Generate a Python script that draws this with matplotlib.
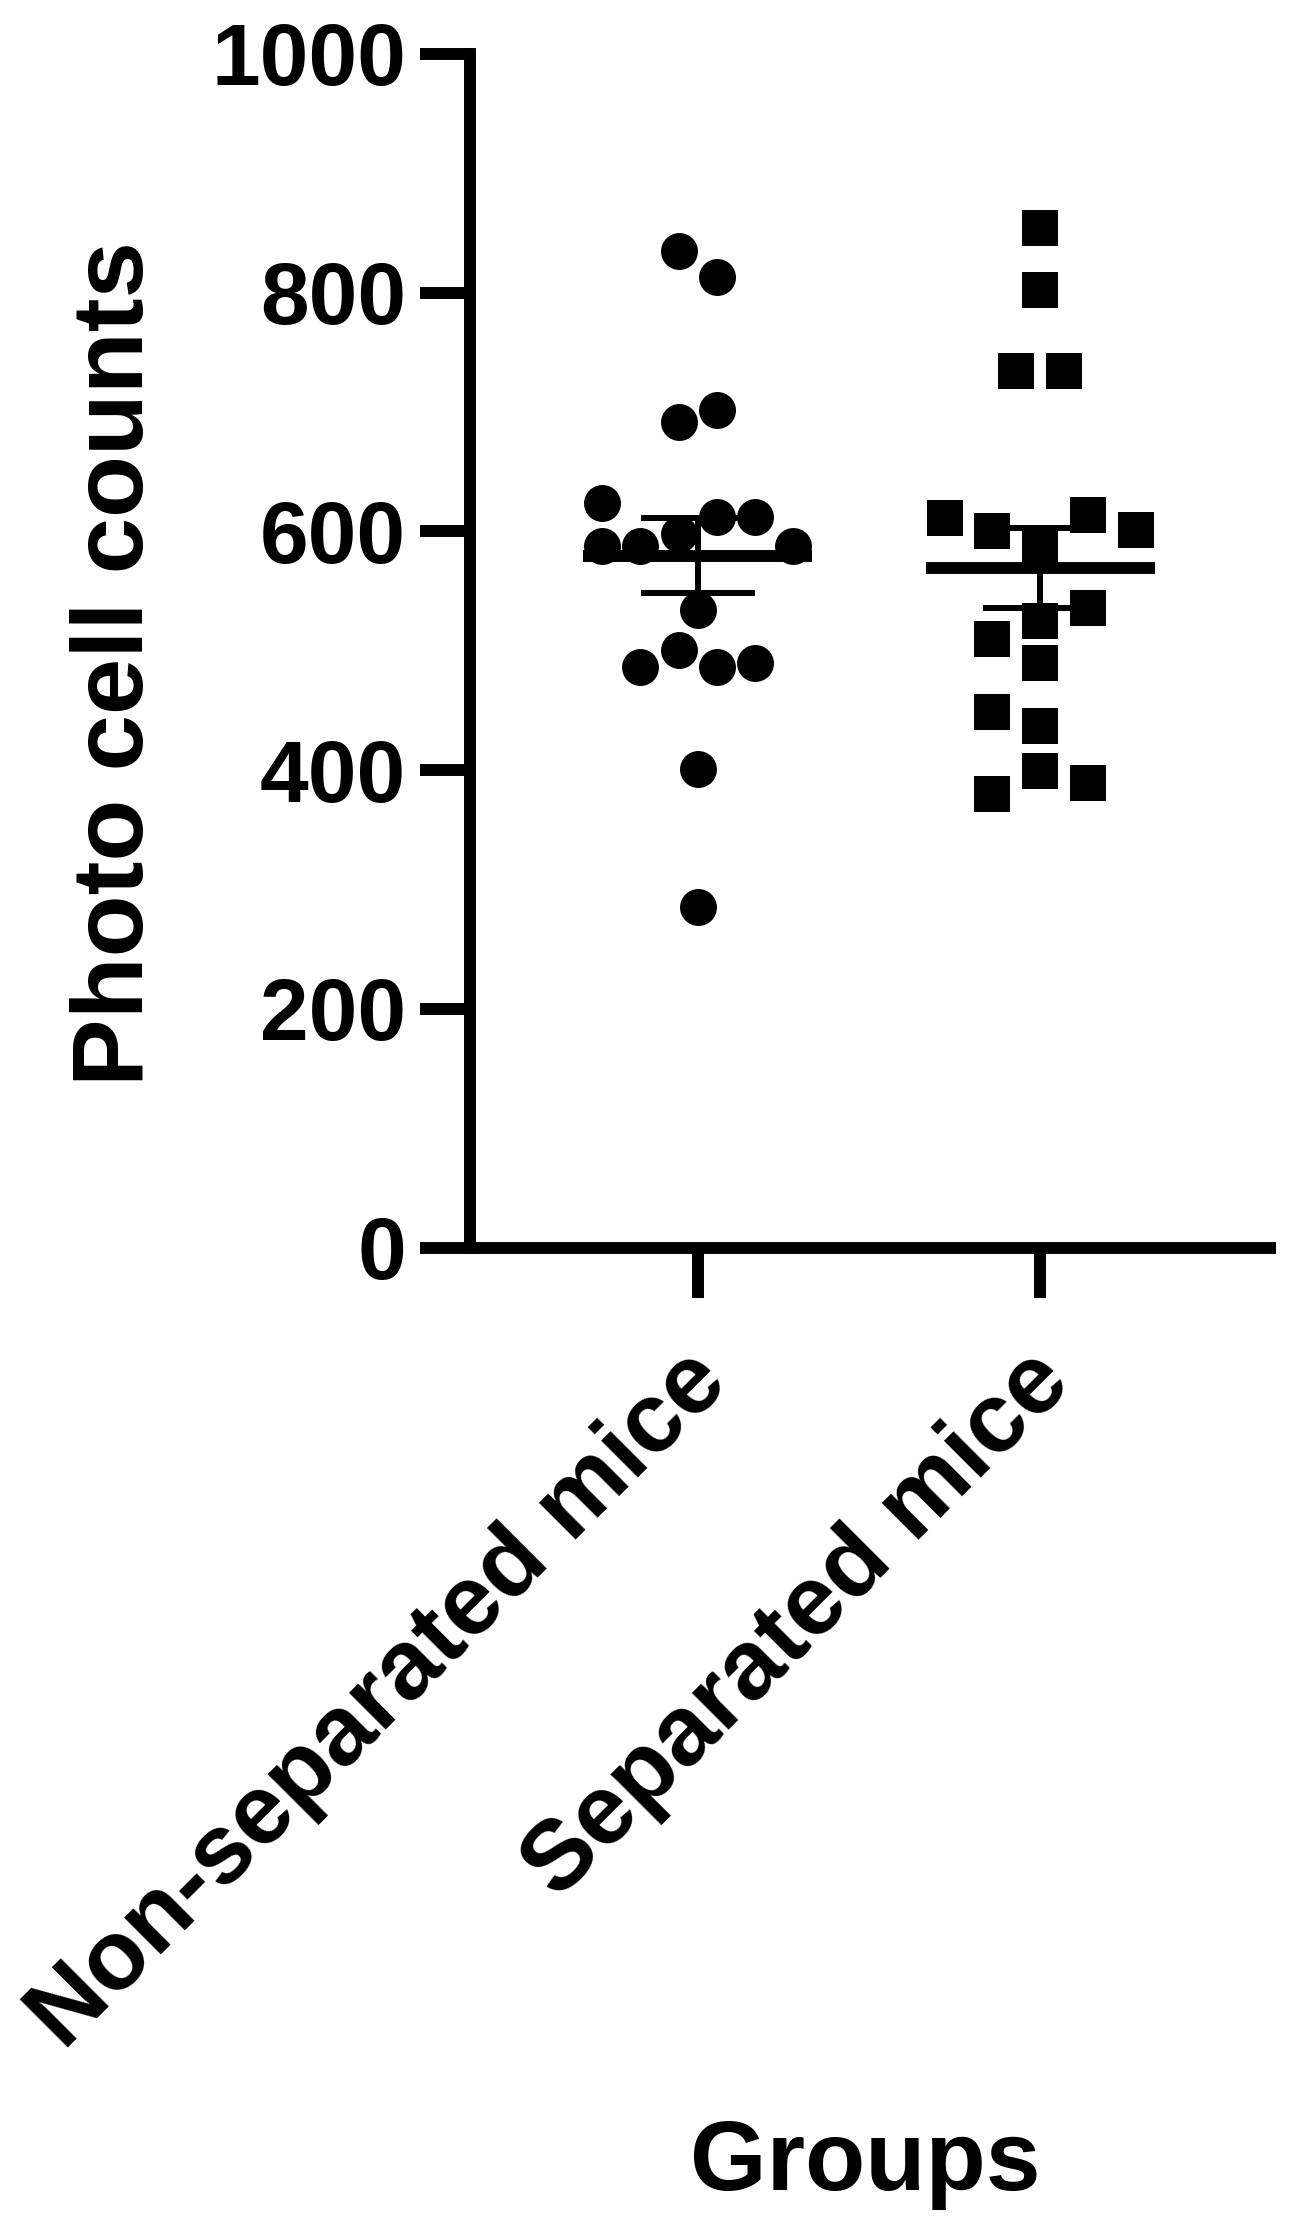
import numpy as np
import matplotlib
matplotlib.use("Agg")
import matplotlib.pyplot as plt
from matplotlib.transforms import ScaledTranslation

plt.rcParams['font.family'] = ['Liberation Sans', 'DejaVu Sans']
plt.rcParams['font.weight'] = 'bold'

# ---- data ----
groups = ["Non-separated mice", "Separated mice"]
non_separated = [835, 813, 692, 702, 624, 588, 588, 598, 612, 612, 588,
                 534, 501, 486, 486, 490, 401, 285]
separated = [854, 802, 734, 734, 611, 600, 614, 601, 585, 536, 525,
             510, 490, 449, 437, 399, 389, 380]
# horizontal scatter offsets (beeswarm-like), in category units
jitter_ns = [-0.056, 0.056, -0.056, 0.056, -0.279, -0.279, -0.168, -0.056,
             0.056, 0.168, 0.279, 0.0, -0.056, -0.168, 0.056, 0.168, 0.0, 0.0]
jitter_s = [0.0, 0.0, -0.070, 0.070, -0.279, -0.140, 0.140, 0.279, 0.0,
            0.140, 0.0, -0.140, 0.0, -0.140, 0.0, 0.0, 0.140, -0.140]
yticks = [0, 200, 400, 600, 800, 1000]
ylabel = "Photo cell counts"
xlabel = "Groups"

W, H = 1290, 2236
fig = plt.figure(figsize=(W / 100, H / 100), dpi=100)
ax = fig.add_axes([470 / W, (H - 1247.5) / H, 800 / W, 1193.5 / H])

series = [(non_separated, jitter_ns, 'o'), (separated, jitter_s, 's')]
for i, (vals, jit, mk) in enumerate(series):
    vals = np.asarray(vals, dtype=float)
    xs = i + np.asarray(jit)
    ax.plot(xs, vals, linestyle='none', marker=mk, markersize=26.6,
            markerfacecolor='black', markeredgewidth=0, color='black',
            zorder=3, clip_on=False)
    mean = vals.mean()
    sem = vals.std(ddof=1) / np.sqrt(len(vals))
    ax.hlines(mean, i - 0.334, i + 0.334, colors='black', linewidth=8.6,
              zorder=2)
    ax.errorbar([i], [mean], yerr=[sem], fmt='none', ecolor='black',
                elinewidth=4.3, capsize=41, capthick=4.3, zorder=2)

ax.set_xlim(-0.665, 1.67)
ax.set_ylim(0, 1000)
ax.set_yticks(yticks)
ax.set_yticklabels([str(t) for t in yticks])
ax.set_xticks(range(len(groups)))
ax.set_xticklabels(groups)

for side in ['top', 'right']:
    ax.spines[side].set_visible(False)
for side in ['left', 'bottom']:
    ax.spines[side].set_linewidth(8.6)

ax.tick_params(axis='both', direction='out', length=36, width=8.6,
               color='black')
ax.tick_params(axis='y', labelsize=63, pad=10)
ax.tick_params(axis='x', labelsize=71, pad=50)

for lab in ax.get_xticklabels():
    lab.set_rotation(45)
    lab.set_ha('right')
    lab.set_va('center')
    lab.set_rotation_mode('anchor')
    lab.set_fontweight('bold')
    lab.set_transform(lab.get_transform() +
                      ScaledTranslation(0.15, 0, fig.dpi_scale_trans))
for lab in ax.get_yticklabels():
    lab.set_fontweight('bold')

ax.set_ylabel(ylabel, fontsize=73, fontweight='bold')
ax.yaxis.set_label_coords(-0.441, 0.489)
ax.yaxis.label.set_va('center')
ax.set_xlabel(xlabel, fontsize=71, fontweight='bold')
ax.xaxis.set_label_coords(0.494, -0.790)
ax.xaxis.label.set_va('baseline')

fig.savefig("out.png", dpi=100)
